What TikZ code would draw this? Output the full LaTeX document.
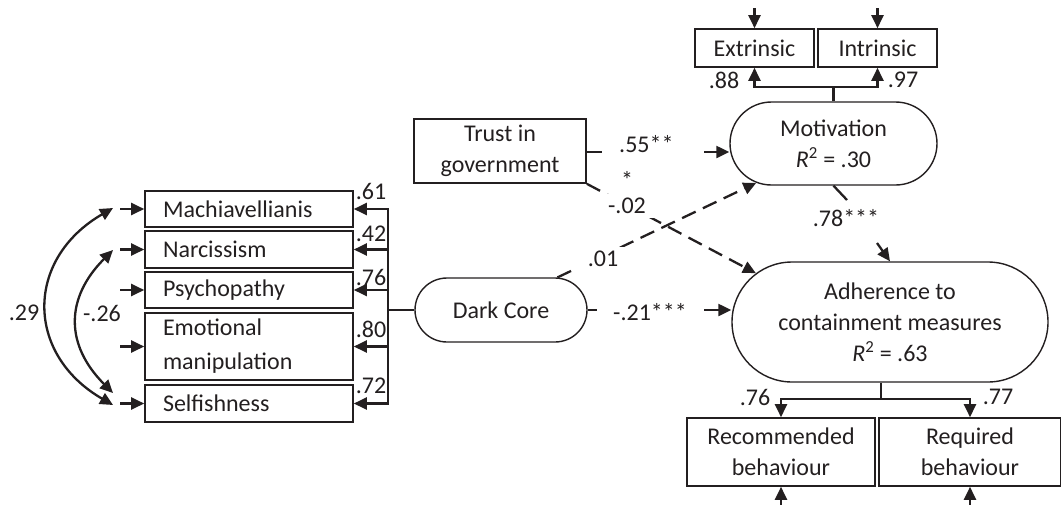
\documentclass[tikz,border=0pt]{standalone}
\usepackage{fontspec}
\setmainfont{Carlito}
\usetikzlibrary{arrows.meta,shapes.misc}
\definecolor{ink}{HTML}{231F20}
\begin{document}
\begin{tikzpicture}[x=1pt,y=-1pt,
  every node/.style={font=\fontsize{24}{31}\selectfont, text=ink},
  box/.style={draw=ink, line width=1.6pt, inner sep=0pt, align=center},
  lbox/.style={draw=ink, line width=1.6pt, text width=172pt, inner xsep=18pt, inner ysep=0pt, align=left, minimum height=#1},
  lbox/.default=36pt,
  rnd/.style={draw=ink, line width=1.4pt, rounded rectangle, inner sep=0pt, align=center},
  conn/.style={draw=ink, line width=2.3pt, -{Triangle[length=13pt,width=12pt]}},
  dbl/.style={draw=ink, line width=2.3pt, {Triangle[length=13pt,width=12pt]}-{Triangle[length=13pt,width=12pt]}},
  solidline/.style={draw=ink, line width=2.3pt},
  dsh/.style={dash pattern=on 15pt off 8pt},
  lab/.style={inner sep=1pt},
  wlab/.style={inner xsep=8pt, inner ysep=4pt, fill=white},
  ]
\useasboundingbox (0,0) rectangle (1061,504);

% ---- Dark Core indicators ----
\node[lbox] (mach) at (249,209) {Machiavellianis};
\node[lbox=37pt] (narc) at (249,249.5) {Narcissism};
\node[lbox] (psych) at (249,290) {Psychopathy};
\node[lbox=67pt] (emo) at (249,346.5) {Emotional\\[3pt]manipulation};
\node[lbox=37pt] (self) at (249,403.5) {Selfishness};

% ---- latent and observed variables ----
\node[rnd, minimum width=172pt, minimum height=64pt] (dc) at (501,310) {Dark Core};
\node[box, minimum width=172pt, minimum height=64pt] (trust) at (500,151) {Trust in\\government};
\node[rnd, minimum width=207pt, minimum height=83pt] (mot) at (833.5,143.5) {Motivation\\\textit{R}\textsuperscript{2} = .30};
\node[rnd, minimum width=316pt, minimum height=120pt] (adh) at (890,322) {Adherence to\\containment measures\\\textit{R}\textsuperscript{2} = .63};
\node[box, minimum width=119pt, minimum height=38pt] (ext) at (754.5,48) {Extrinsic};
\node[box, minimum width=119pt, minimum height=38pt] (intr) at (877.5,48) {Intrinsic};
\node[box, minimum width=188pt, minimum height=68pt] (rec) at (781,452) {Recommended\\behaviour};
\node[box, minimum width=182pt, minimum height=68pt] (req) at (970,452) {Required\\behaviour};

% ---- error inputs on the left ----
\coordinate (inM) at (120,209);
\coordinate (inN) at (120,249.5);
\coordinate (inP) at (120,290);
\coordinate (inE) at (120,346.5);
\coordinate (inS) at (120,403.5);
\draw[conn] (inM) -- (mach);
\draw[conn] (inN) -- (narc);
\draw[conn] (inP) -- (psych);
\draw[conn] (inE) -- (emo);
\draw[conn] (inS) -- (self);

% ---- correlations ----
\coordinate (cvA) at (113,208);
\coordinate (cvB) at (113,405);
\coordinate (cvC) at (113,250);
\coordinate (cvD) at (113,393);
\draw[dbl] (cvA) .. controls (25,259) and (25,354) .. (cvB);
\draw[dbl] (cvC) .. controls (65,298) and (65,345) .. (cvD);
\node[lab] (l29) at (24,313) {.29};
\node[lab] (l26) at (102,313) {-.26};

% ---- Dark Core loadings ----
\coordinate (dcj) at (388,310);
\draw[solidline] (dc.west) -- (dcj);
\draw[conn] (dcj) |- (mach);
\draw[conn] (dcj) |- (narc);
\draw[conn] (dcj) |- (psych);
\draw[conn] (dcj) |- (emo);
\draw[conn] (dcj) |- (self);
\node[lab] (l61) at (371,191) {.61};
\node[lab] (l42) at (371,234) {.42};
\node[lab] (l76a) at (371,277) {.76};
\node[lab] (l80) at (371,329) {.80};
\node[lab] (l72) at (371,386) {.72};

% ---- Trust -> Motivation ----
\coordinate (t55a) at (602,152);
\coordinate (t55b) at (704,152);
\draw[solidline] (trust.east |- t55a) -- (t55a);
\draw[conn] (t55b) -- (t55b -| mot.west);
\node[lab, anchor=north west, align=left] (l55) at (618,134) {.55**\\[5pt]\hspace*{2pt}*};

% ---- dashed paths ----
\draw[conn, dsh] (trust.south east) -- (adh.160);
\draw[conn, dsh] (dc.30) -- (mot.207);
\node[lab, wlab] (l02) at (627,206) {-.02};
\node[lab, wlab, inner xsep=12pt] (l01) at (603,259) {.01};

% ---- Dark Core -> Adherence ----
\coordinate (d21a) at (597,310);
\coordinate (d21b) at (704,310);
\draw[solidline] (dc.east) -- (d21a);
\draw[conn] (d21b) -- (d21b -| adh.west);
\node[lab] (l21) at (650,312) {-.21***};

% ---- Motivation -> Adherence ----
\coordinate (m78a) at (847,200);
\coordinate (m78b) at (877,243);
\draw[solidline] (mot.south) -- (m78a);
\draw[conn] (m78b) -- (adh.north);
\node[lab] (l78) at (846,218) {.78***};

% ---- Motivation indicators ----
\coordinate (mj) at (833.5,87);
\draw[solidline] (mot.north) -- (mj);
\draw[conn] (mj) -| (ext);
\draw[conn] (mj) -| (intr);
\coordinate (eIn) at (754.5,8);
\coordinate (iIn) at (877.5,8);
\draw[conn] (eIn) -- (ext);
\draw[conn] (iIn) -- (intr);
\node[lab] (l88) at (724,80) {.88};
\node[lab] (l97) at (903,80) {.97};

% ---- Adherence indicators ----
\coordinate (aj) at (881,399);
\draw[solidline] (aj |- adh.south) -- (aj);
\draw[conn] (aj) -| (rec);
\draw[conn] (aj) -| (req);
\coordinate (rIn) at (781,508);
\coordinate (qIn) at (970,508);
\draw[conn] (rIn) -- (rec);
\draw[conn] (qIn) -- (req);
\node[lab] (l76b) at (755,397) {.76};
\node[lab] (l77) at (998,397) {.77};
\end{tikzpicture}
\end{document}
